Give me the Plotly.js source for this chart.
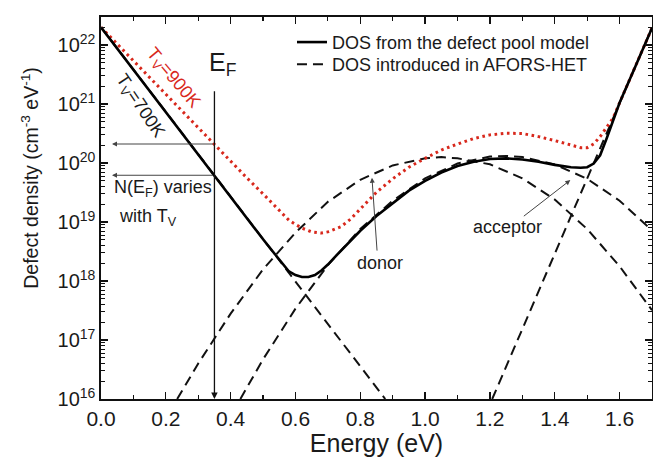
<!DOCTYPE html>
<html>
<head>
<meta charset="utf-8">
<script src="https://cdn.plot.ly/plotly-3.0.1.min.js"></script>
<style>html,body{margin:0;padding:0;background:#fff;}#chart{width:653px;height:457px;}</style>
</head>
<body>
<div id="chart"></div>
<script>
// Defect pool model DOS, Tv = 700 K (solid black)
var energy700 = [0, 0.1, 0.2, 0.3, 0.35, 0.4, 0.45, 0.5, 0.54, 0.56, 0.58, 0.6, 0.62, 0.64, 0.66, 0.68, 0.7, 0.72, 0.75, 0.8, 0.85, 0.9, 0.95, 1.0, 1.05, 1.1, 1.15, 1.2, 1.25, 1.3, 1.35, 1.4, 1.45, 1.48, 1.5, 1.52, 1.54, 1.56, 1.58, 1.6, 1.65, 1.7];
var dos700 = [2.0e22, 3.8e21, 7.2e20, 1.41e20, 6.2e19, 2.7e19, 1.17e19, 5.1e18, 2.7e18, 1.95e18, 1.45e18, 1.26e18, 1.17e18, 1.17e18, 1.26e18, 1.51e18, 1.9e18, 2.5e18, 3.7e18, 7.1e18, 1.26e19, 2.1e19, 3.4e19, 5.0e19, 6.9e19, 8.9e19, 1.05e20, 1.17e20, 1.2e20, 1.15e20, 1.05e20, 9.3e19, 8.5e19, 8.3e19, 8.5e19, 9.8e19, 1.35e20, 2.6e20, 5.3e20, 1.05e21, 4.5e21, 1.95e22];

// Defect pool model DOS, Tv = 900 K (red dotted)
var energy900 = [0, 0.1, 0.2, 0.3, 0.35, 0.4, 0.45, 0.5, 0.55, 0.58, 0.6, 0.62, 0.65, 0.68, 0.7, 0.72, 0.74, 0.77, 0.8, 0.85, 0.9, 0.95, 1.0, 1.05, 1.1, 1.15, 1.2, 1.25, 1.3, 1.35, 1.4, 1.45, 1.48, 1.5, 1.52, 1.54, 1.56, 1.58, 1.6, 1.65, 1.7];
var dos900 = [2.0e22, 5.4e21, 1.48e21, 4.0e20, 2.1e20, 1.1e20, 5.6e19, 3.0e19, 1.55e19, 1.07e19, 9.1e18, 7.9e18, 6.8e18, 6.5e18, 6.8e18, 7.4e18, 8.3e18, 1.12e19, 1.66e19, 3.2e19, 5.4e19, 8.5e19, 1.2e20, 1.66e20, 2.1e20, 2.6e20, 3.0e20, 3.2e20, 3.16e20, 2.8e20, 2.4e20, 2.0e20, 1.82e20, 1.82e20, 2.1e20, 2.8e20, 4.0e20, 5.8e20, 1.05e21, 4.5e21, 1.95e22];

// AFORS-HET DOS (dashed): valence band tail
var energyVBT = [0, 0.2, 0.4, 0.6, 0.877];
var dosVBT = [2.0e22, 7.2e20, 2.7e19, 9.8e17, 1.0e16];
// donor gaussian
var energyDonor = [0.235, 0.3, 0.4, 0.5, 0.6, 0.7, 0.8, 0.9, 1.0, 1.05, 1.1, 1.2, 1.3, 1.4, 1.5, 1.6, 1.7];
var dosDonor = [1.0e16, 4.0e16, 2.8e17, 1.58e18, 6.6e18, 2.2e19, 5.2e19, 9.1e19, 1.2e20, 1.26e20, 1.2e20, 9.5e19, 5.5e19, 2.4e19, 7.6e18, 1.78e18, 3.2e17];
// acceptor gaussian
var energyAcceptor = [0.43, 0.5, 0.6, 0.7, 0.8, 0.9, 1.0, 1.1, 1.2, 1.25, 1.3, 1.4, 1.5, 1.6, 1.7];
var dosAcceptor = [1.0e16, 4.7e16, 3.4e17, 1.86e18, 7.6e18, 2.3e19, 5.5e19, 9.8e19, 1.29e20, 1.32e20, 1.26e20, 9.5e19, 5.4e19, 2.3e19, 7.2e18];
// conduction band tail
var energyCBT = [1.207, 1.3, 1.4, 1.5, 1.6, 1.7];
var dosCBT = [1.0e16, 1.55e17, 2.9e18, 5.5e19, 1.02e21, 1.95e22];

// Fermi level position
var fermiEnergy = 0.35;

var xTickVals = [0, 0.2, 0.4, 0.6, 0.8, 1.0, 1.2, 1.4, 1.6];
var xTickText = ['0.0', '0.2', '0.4', '0.6', '0.8', '1.0', '1.2', '1.4', '1.6'];
var yTickVals = [1e16, 1e17, 1e18, 1e19, 1e20, 1e21, 1e22];
var yTickText = ['10<sup>16</sup>', '10<sup>17</sup>', '10<sup>18</sup>', '10<sup>19</sup>', '10<sup>20</sup>', '10<sup>21</sup>', '10<sup>22</sup>'];

var FONT = 'Liberation Sans, Arial, sans-serif';
var TXT = '#1a1a1a';
var RED = '#d8281c';
var DASH = '10px,6px';

function dashed(x, y, show) {
  return {x: x, y: y, mode: 'lines', type: 'scatter', name: 'DOS introduced in AFORS-HET',
    line: {color: '#111', width: 2, dash: DASH}, showlegend: show, legend: 'legend2', hoverinfo: 'skip'};
}

var traces = [
  dashed(energyVBT, dosVBT, false),
  dashed(energyDonor, dosDonor, true),
  dashed(energyAcceptor, dosAcceptor, false),
  dashed(energyCBT, dosCBT, false),
  {x: energy900, y: dos900, mode: 'lines', type: 'scatter', name: 'Tv=900K',
   line: {color: RED, width: 3, dash: '2.6px,3.6px'}, showlegend: false},
  {x: energy700, y: dos700, mode: 'lines', type: 'scatter', name: 'DOS from the defect pool model',
   line: {color: '#000', width: 2.6}, showlegend: true, legend: 'legend'}
];

var i700 = energy700.indexOf(fermiEnergy);
var i900 = energy900.indexOf(fermiEnergy);
var yF700 = Math.log10(dos700[i700]);
var yF900 = Math.log10(dos900[i900]);

var annFont = {family: FONT, size: 18, color: TXT};

function arrow(xh, yh, xt, yt, w, c) {
  return {xref: 'x', yref: 'y', axref: 'x', ayref: 'y', x: xh, y: yh, ax: xt, ay: yt,
    text: '', showarrow: true, arrowhead: 2, arrowsize: 1, arrowwidth: w, arrowcolor: c, standoff: 0};
}
function label(xr, yr, x, y, text, font, xa, extra) {
  var a = {xref: xr, yref: yr, x: x, y: y, text: text, showarrow: false, font: font,
    xanchor: xa || 'center', yanchor: 'middle'};
  if (extra) { for (var k in extra) a[k] = extra[k]; }
  return a;
}

var annotations = [
  label('x', 'paper', 0.375, 0.878, 'E<sub>F</sub>', {family: FONT, size: 25, color: TXT}),
  arrow(fermiEnergy, 16, fermiEnergy, 21.24, 1.3, '#111'),
  arrow(0.034, yF900, fermiEnergy, yF900, 1, '#444'),
  arrow(0.034, yF700, fermiEnergy, yF700, 1, '#444'),
  label('x', 'y', 0.034, 19.56, 'N(E<sub>F</sub>) varies', annFont, 'left'),
  label('x', 'y', 0.049, 19.07, 'with T<sub>V</sub>', annFont, 'left'),
  label('x', 'paper', 0.12, 0.767, 'T<sub>V</sub>=700K', {family: FONT, size: 18, color: TXT}, 'center', {textangle: 56}),
  label('x', 'paper', 0.222, 0.84, 'T<sub>V</sub>=900K', {family: FONT, size: 18, color: RED}, 'center', {textangle: 50}),
  label('x', 'y', 0.861, 18.31, 'donor', annFont),
  arrow(0.836, 19.75, 0.852, 18.49, 1, '#444'),
  label('x', 'y', 1.253, 18.92, 'acceptor', annFont),
  arrow(1.448, 19.71, 1.30, 19.08, 1, '#444'),
  label('paper', 'paper', -0.129, 0.579, 'Defect density (cm<sup>-3</sup> eV<sup>-1</sup>)',
    {family: FONT, size: 19.5, color: TXT}, 'center', {textangle: -90})
];

var legFont = {family: FONT, size: 18, color: TXT};

var layout = {
  width: 653, height: 457,
  margin: {l: 101, r: 1, t: 17, b: 58, pad: 0},
  paper_bgcolor: '#fff', plot_bgcolor: '#fff',
  font: {family: FONT, color: TXT},
  showlegend: true,
  legend: {x: 0.3466, y: 0.982, xanchor: 'left', yanchor: 'top', bgcolor: 'rgba(0,0,0,0)', font: legFont},
  legend2: {x: 0.3466, y: 0.924, xanchor: 'left', yanchor: 'top', bgcolor: 'rgba(0,0,0,0)', font: legFont},
  xaxis: {
    range: [0, 1.7], tickmode: 'array', tickvals: xTickVals, ticktext: xTickText,
    ticks: 'inside', ticklen: 7, tickwidth: 1.3, tickcolor: '#111',
    minor: {dtick: 0.1, tick0: 0, ticks: 'inside', ticklen: 4, tickwidth: 1.2, tickcolor: '#111'},
    showline: true, linewidth: 1.6, linecolor: '#111', mirror: 'allticks',
    showgrid: false, zeroline: false,
    tickfont: {family: FONT, size: 21, color: TXT},
    title: {text: 'Energy (eV)', font: {family: FONT, size: 25, color: TXT}, standoff: 4}
  },
  yaxis: {
    type: 'log', range: [16, 22.475], tickmode: 'array', tickvals: yTickVals, ticktext: yTickText,
    ticks: 'inside', ticklen: 7, tickwidth: 1.3, tickcolor: '#111',
    minor: {dtick: 'D1', ticks: 'inside', ticklen: 4, tickwidth: 1, tickcolor: '#111'},
    showline: true, linewidth: 1.6, linecolor: '#111', mirror: 'allticks',
    showgrid: false, zeroline: false,
    tickfont: {family: FONT, size: 20, color: TXT}
  },
  annotations: annotations
};

Plotly.newPlot('chart', traces, layout, {displayModeBar: false, staticPlot: true});
</script>
</body>
</html>
